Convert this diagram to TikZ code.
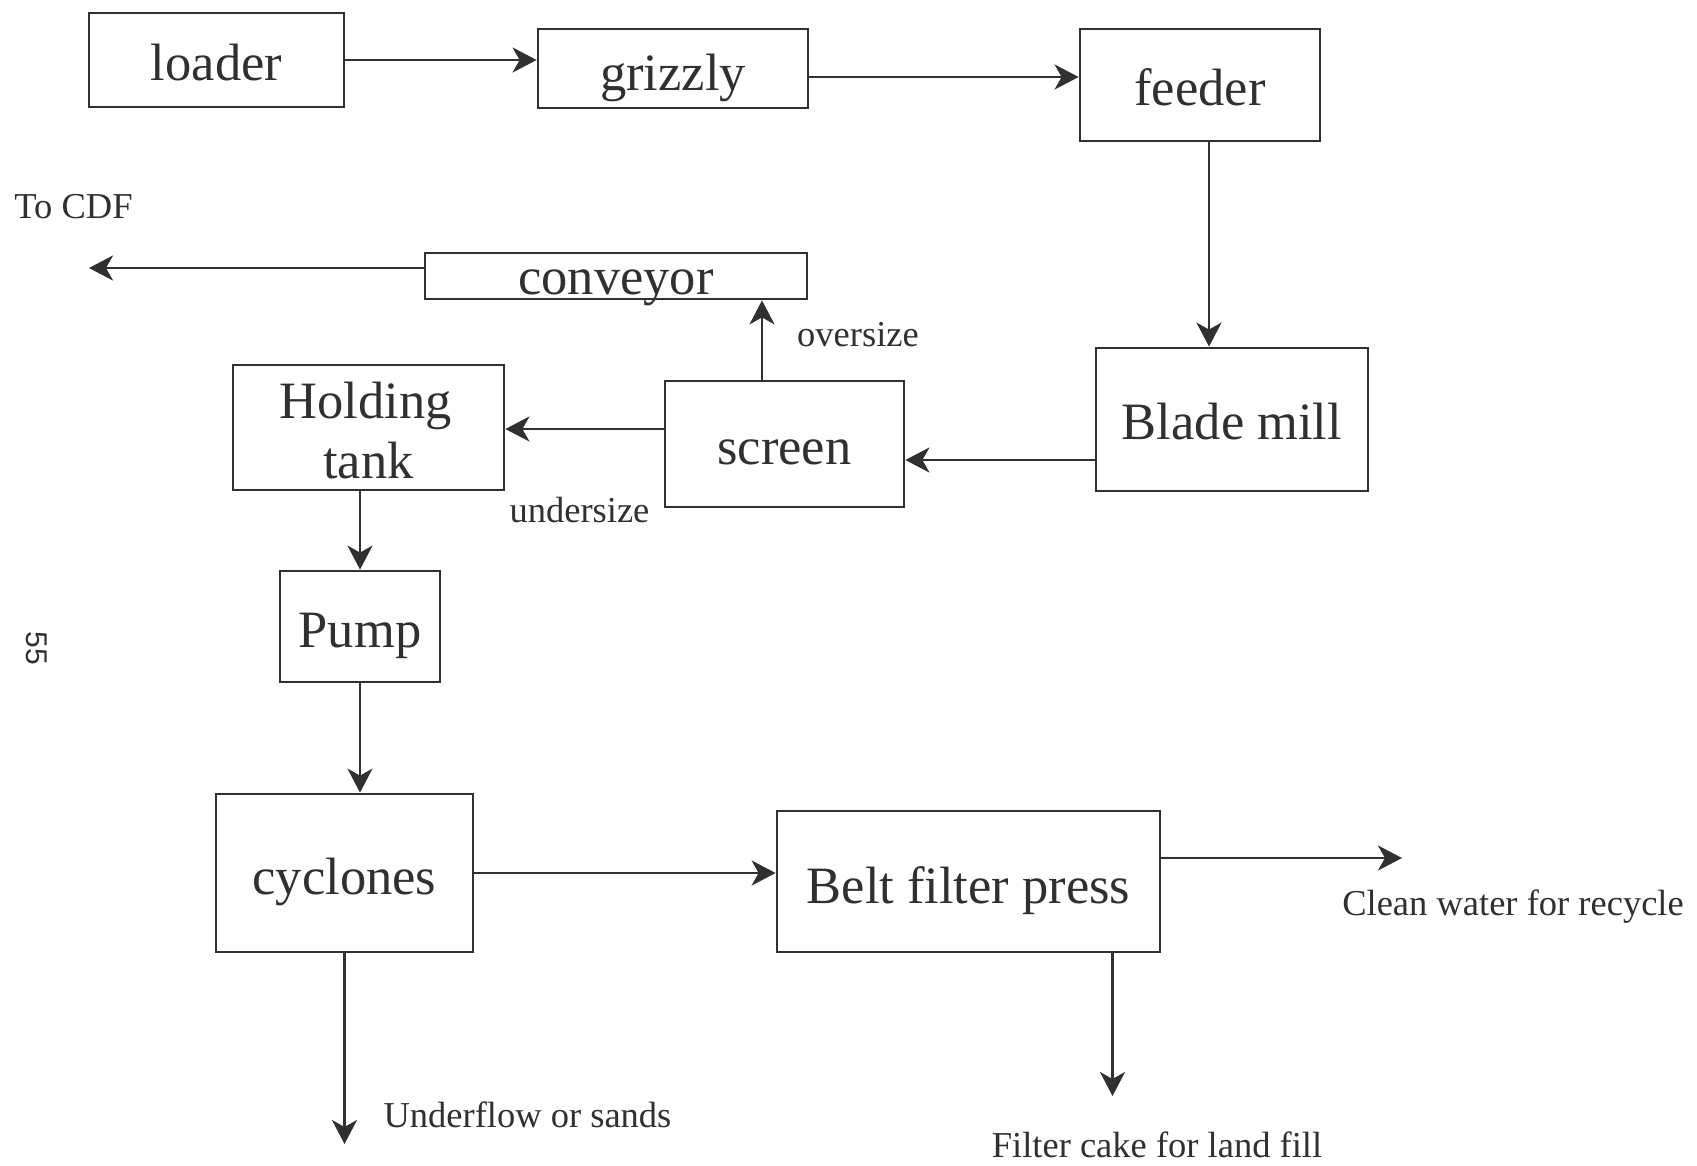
\documentclass[tikz,border=0pt]{standalone}
\usepackage{fontspec}
\setmainfont{Liberation Serif}
\newfontfamily\pagefont{Liberation Sans}
\usetikzlibrary{arrows.meta}
\definecolor{ink}{HTML}{303030}
\tikzset{
  unit/.style={draw=ink, line width=2.8pt, rectangle, inner sep=0pt},
  boxtext/.style={inner sep=0pt, align=center, font=\fontsize{52.5}{63}\selectfont, text=ink},
  lbl/.style={inner sep=0pt, font=\fontsize{36.5}{44}\selectfont, text=ink},
  flow/.style={draw=ink, line width=2.7pt, -{Stealth[length=24pt, width=25pt, inset=7pt]}},
}
\begin{document}
\begin{tikzpicture}[x=1pt, y=-1pt]
\useasboundingbox (0,0) rectangle (1697,1165);
\node[unit, minimum width=255pt, minimum height=94pt, label={[boxtext, yshift=-3pt]center:loader}]  (loader)   at (216.5,60)   {};
\node[unit, minimum width=270pt, minimum height=79pt, label={[boxtext, yshift=-9pt]center:grizzly}]  (grizzly)  at (673,68.5)   {};
\node[unit, minimum width=240pt, minimum height=112pt, label={[boxtext, yshift=-2pt]center:feeder}] (feeder)   at (1200,85)    {};
\node[unit, minimum width=382pt, minimum height=46pt, label={[boxtext, yshift=-12pt]center:conveyor}]  (conveyor) at (616,276)    {};
\node[unit, minimum width=271pt, minimum height=125pt, label={[boxtext, yshift=-3pt, xshift=-3pt]center:Holding\\[-3pt]\hspace*{6pt}tank}] (holding)  at (368.5,427.5) {};
\node[unit, minimum width=239pt, minimum height=126pt, label={[boxtext, yshift=-8pt]center:screen}] (screen)   at (784.5,444)  {};
\node[unit, minimum width=272pt, minimum height=143pt, label={[boxtext, yshift=-2pt]center:Blade mill}] (blade)    at (1232,419.5) {};
\node[unit, minimum width=160pt, minimum height=111pt, label={[boxtext, yshift=-9pt]center:Pump}] (pump)     at (360,626.5)  {};
\node[unit, minimum width=257pt, minimum height=158pt, label={[boxtext, yshift=-9pt]center:cyclones}] (cyclones) at (344.5,873)  {};
\node[unit, minimum width=383pt, minimum height=141pt, label={[boxtext, yshift=-9pt]center:Belt filter press}] (belt)     at (968.5,881.5) {};

\node[lbl] (tocdf) at (73.5,207) {To CDF};
\node[lbl] (over) at (858,335) {oversize};
\node[lbl] (under) at (579.5,510) {undersize};
\node[lbl] (clean) at (1513,907) {Clean water for recycle};
\node[lbl] (sands) at (527.5,1115) {Underflow or sands};
\node[lbl] (cake) at (1157,1145) {Filter cake for land fill};
\node[inner sep=0pt, rotate=-90, font=\pagefont\fontsize{30}{36}\selectfont, text=ink] (pg) at (37,648) {55};

\coordinate (g1) at ([yshift=-8.5pt]grizzly.east);
\coordinate (f1) at ([xshift=9pt]feeder.south);
\coordinate (b1) at ([yshift=-40.5pt]blade.west);
\coordinate (s1) at ([yshift=15pt]screen.west);
\coordinate (s2) at ([xshift=-22.5pt]screen.north);
\coordinate (c1) at ([yshift=8pt]conveyor.west);
\coordinate (cdfend) at (89,268);
\coordinate (p1) at (pump.north |- holding.south);
\coordinate (bf1) at ([yshift=23.5pt]belt.east);
\coordinate (cleanend) at (1402,858);
\coordinate (sandsend) at (344.5,1144);
\coordinate (bf2) at ([xshift=144pt]belt.south);
\coordinate (cakeend) at (1112.5,1096);

\draw[flow] (loader.east) -- (loader.east -| grizzly.west);
\draw[flow] (g1) -- (g1 -| feeder.west);
\draw[flow] (f1) -- (f1 |- blade.north);
\draw[flow] (b1) -- (b1 -| screen.east);
\draw[flow] (s1) -- (s1 -| holding.east);
\draw[flow] (s2) -- (s2 |- conveyor.south);
\draw[flow] (c1) -- (cdfend);
\draw[flow] (p1) -- (pump.north);
\draw[flow] (pump.south) -- (pump.south |- cyclones.north);
\draw[flow] (cyclones.east) -- (cyclones.east -| belt.west);
\draw[flow] (bf1) -- (cleanend);
\draw[flow] (cyclones.south) -- (sandsend);
\draw[flow] (bf2) -- (cakeend);
\end{tikzpicture}
\end{document}
